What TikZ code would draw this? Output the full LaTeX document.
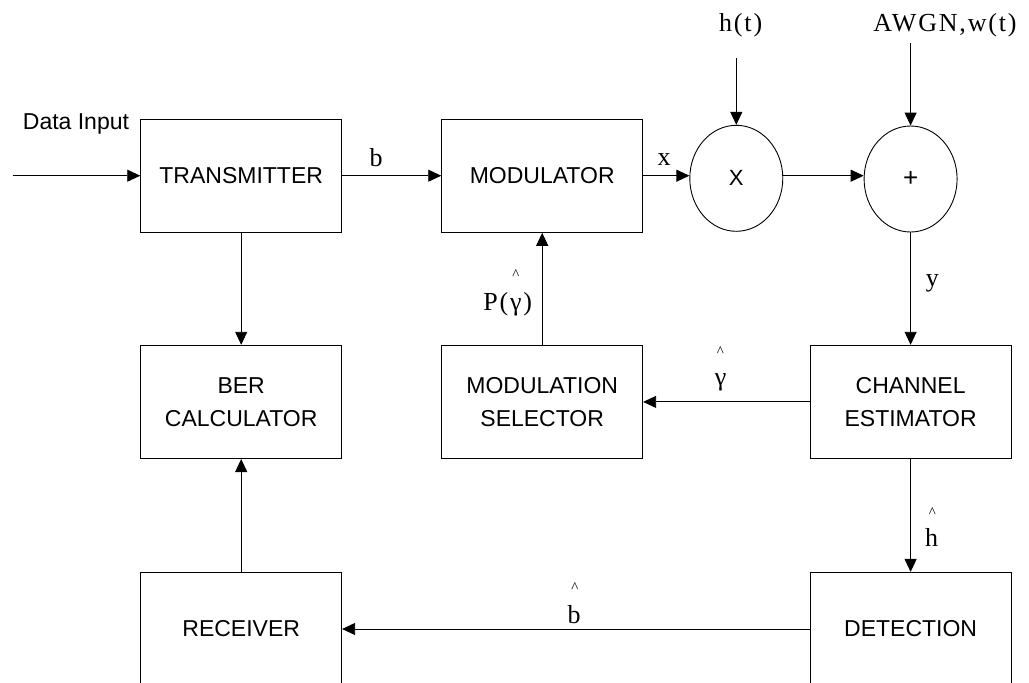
\documentclass[tikz,border=0pt]{standalone}
\usepackage{fontspec}
\setmainfont{Liberation Sans}
\newfontfamily\lblfont[LetterSpace=7]{Liberation Serif}
\newfontfamily\hatfont{Liberation Serif}
\usetikzlibrary{arrows.meta,shapes.geometric}
\tikzset{
  box/.style={draw, line width=0.9pt, minimum width=201pt, minimum height=113.3pt, inner sep=0pt, align=center, font=\fontsize{23}{33}\selectfont},
  sumnode/.style={ellipse, draw, line width=0.9pt, minimum width=93pt, minimum height=106pt, inner sep=0pt},
  lbl/.style={font=\lblfont\fontsize{26}{26}\selectfont, inner sep=0pt, anchor=base},
  hatmark/.style={font=\hatfont\fontsize{15}{15}\selectfont, inner sep=0pt},
  arr/.style={-{Triangle[length=13pt,width=12pt]}, line width=0.9pt}
}
\begin{document}
\begin{tikzpicture}[x=1pt,y=-1pt]
\useasboundingbox (0,0) rectangle (1029,683);
\clip (0,0) rectangle (1029,683);
% blocks
\node[box] (tx) at (241.2,175.7) {TRANSMITTER};
\node[box] (mod) at (542.2,175.7) {MODULATOR};
\node[sumnode, font=\fontsize{22}{22}\selectfont] (mul) at (736.3,178.3) {X};
\node[sumnode, font=\fontsize{26}{26}\selectfont] (add) at (910.6,179) {+};
\node[box] (ber) at (241.2,401.9) {BER\\CALCULATOR};
\node[box] (sel) at (542.2,401.9) {MODULATION\\SELECTOR};
\node[box] (est) at (910.6,401.9) {CHANNEL\\ESTIMATOR};
\node[box] (rx) at (241.2,629) {RECEIVER};
\node[box] (det) at (910.6,629) {DETECTION};
% free ends
\coordinate (in) at (12.7,175.7);
\coordinate (ht) at (736.3,58);
\coordinate (wt) at (910.6,43);
% connectors
\draw[arr] (in) -- (tx.west);
\draw[arr] (tx.east) -- (mod.west);
\draw[arr] (mod.east) -- (mod.east -| mul.west);
\draw[arr] (mul.east |- mod.east) -- (add.west |- mod.east);
\draw[arr] (ht) -- (mul.north);
\draw[arr] (wt) -- (add.north);
\draw[arr] (add.south) -- (est.north);
\draw[arr] (est.west) -- (sel.east);
\draw[arr] (sel.north) -- (mod.south);
\draw[arr] (tx.south) -- (ber.north);
\draw[arr] (est.south) -- (det.north);
\draw[arr] (det.west) -- (rx.east);
\draw[arr] (rx.north) -- (ber.south);
% labels
\node[anchor=base west, inner sep=0pt, font=\fontsize{23}{23}\selectfont] (din) at (22.7,129.5) {Data Input};
\node[lbl] (lb) at (376,166.7) {b};
\node[lbl] (lx) at (664,165) {x};
\node[lbl] (lht) at (740.7,31.7) {h(t)};
\node[lbl] (law) at (945,31.7) {AWGN,w(t)};
\node[lbl] (ly) at (932.3,286.3) {y};
\node[lbl] (lp) at (507.7,310) {P(γ)};
\node[hatmark] (hp) at (516,274.7) {\textasciicircum};
\node[lbl] (lg) at (720.5,385) {γ};
\node[hatmark] (hg) at (720.3,351.3) {\textasciicircum};
\node[lbl] (lh) at (931.7,546.7) {h};
\node[hatmark] (hh) at (932.3,513) {\textasciicircum};
\node[lbl] (lbh) at (574,623.3) {b};
\node[hatmark] (hb) at (575,588) {\textasciicircum};
\end{tikzpicture}
\end{document}
